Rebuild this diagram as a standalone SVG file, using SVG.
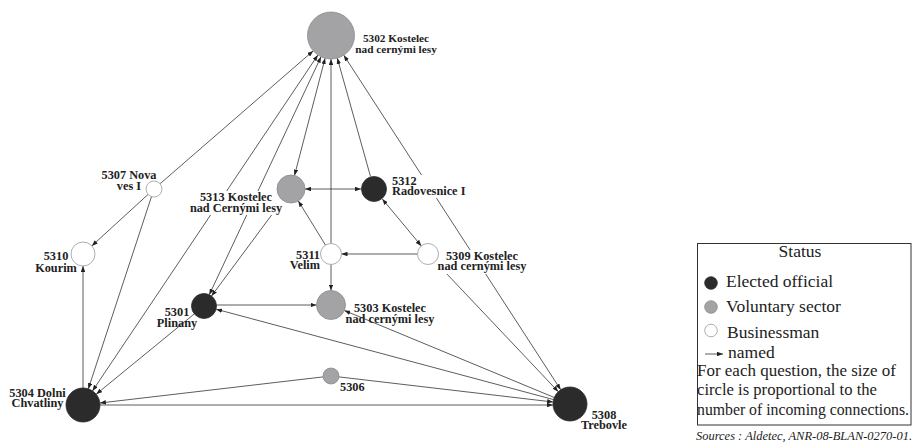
<svg xmlns="http://www.w3.org/2000/svg" width="913" height="444" viewBox="0 0 913 444">
<style>
.e{stroke:#333;stroke-width:0.8;fill:none}
.a{marker-end:url(#ah)}
.b{marker-start:url(#ah);marker-end:url(#ah)}
.blk{fill:#2b2b2b;stroke:#2b2b2b;stroke-width:0.8}
.gry{fill:#a3a3a6;stroke:#8a8a8a;stroke-width:0.8}
.wht{fill:#fff;stroke:#999;stroke-width:0.8}
.lb{font-family:"Liberation Serif","Times New Roman",serif;font-weight:bold;font-size:12.3px;fill:#222}
.bg{fill:#fff}
.lg{font-family:"Liberation Serif","Times New Roman",serif;fill:#222}
</style>
<defs>
<marker id="ah" viewBox="0 0 8 6" refX="8" refY="3" markerWidth="6" markerHeight="4.5" markerUnits="userSpaceOnUse" orient="auto-start-reverse"><path d="M0,0 L8,3 L0,6 z" fill="#222"/></marker>
</defs>
<rect width="913" height="444" fill="#fff"/>
<g id="edges">
<line class="e a" x1="160" y1="183.8" x2="313.2" y2="50.9"/>
<line class="e b" x1="317.9" y1="55" x2="92.5" y2="390.9"/>
<line class="e b" x1="321" y1="56.8" x2="209.3" y2="294.7"/>
<line class="e b" x1="325.1" y1="58.2" x2="294.5" y2="175.5"/>
<line class="e a" x1="331" y1="243.5" x2="331" y2="59"/>
<line class="e a" x1="370.5" y1="176.5" x2="337.3" y2="58.1"/>
<line class="e b" x1="343.8" y1="55.2" x2="560.7" y2="389.7"/>
<line class="e b" x1="305" y1="189" x2="361" y2="189"/>
<line class="e a" x1="325.5" y1="245.1" x2="298.3" y2="200.9"/>
<line class="e b" x1="382.3" y1="199" x2="421.3" y2="245.9"/>
<line class="e a" x1="417.5" y1="254" x2="341.5" y2="254"/>
<line class="e a" x1="331" y1="264.5" x2="331" y2="290.5"/>
<line class="e a" x1="216.5" y1="305" x2="316.5" y2="305"/>
<line class="e a" x1="554.3" y1="397.5" x2="344.4" y2="310.5"/>
<line class="e a" x1="553.6" y1="399.6" x2="216.1" y2="309.2"/>
<line class="e a" x1="282.6" y1="200.2" x2="211.5" y2="296"/>
<line class="e a" x1="151.5" y1="196.6" x2="88.3" y2="388.9"/>
<line class="e a" x1="194.3" y1="313.9" x2="96.2" y2="394.2"/>
<line class="e a" x1="148.1" y1="194.4" x2="91.8" y2="245.9"/>
<line class="e a" x1="83" y1="388" x2="83" y2="266"/>
<line class="e a" x1="323.1" y1="376.9" x2="99.9" y2="403"/>
<line class="e a" x1="338.9" y1="376.9" x2="553.1" y2="402"/>
<line class="e a" x1="100" y1="405" x2="553" y2="405"/>
<line class="e a" x1="435.2" y1="261.6" x2="558.3" y2="391.7"/>
</g>
<g id="n5302"><circle class="gry" cx="331" cy="35.5" r="23.5"/><text class="lb" text-anchor="middle" style="font-size:11.3px"><tspan x="396" y="42">5302 Kostelec</tspan><tspan x="396" y="53">nad cernými lesy</tspan></text></g>
<g id="n5313"><rect class="bg" x="189" y="191" width="96" height="24"/><circle class="gry" cx="291" cy="189" r="14"/><text class="lb" text-anchor="middle"><tspan x="236" y="201">5313 Kostelec</tspan><tspan x="236" y="212">nad Cernými lesy</tspan></text></g>
<g id="n5312"><rect class="bg" x="390" y="175" width="78" height="23"/><circle class="blk" cx="374" cy="189" r="12.5"/><text class="lb"><tspan x="392" y="185">5312</tspan><tspan x="392" y="194.5">Radovesnice I</tspan></text></g>
<g id="n5311"><circle class="wht" cx="331" cy="254" r="10.5"/><text class="lb" text-anchor="end"><tspan x="320" y="259">5311</tspan><tspan x="320" y="268.5">Velim</tspan></text></g>
<g id="n5309"><rect class="bg" x="433" y="250" width="97" height="24"/><circle class="wht" cx="428" cy="254" r="10.5"/><text class="lb" text-anchor="middle"><tspan x="482" y="260">5309 Kostelec</tspan><tspan x="482" y="270">nad cernými lesy</tspan></text></g>
<g id="n5303"><circle class="gry" cx="331" cy="305" r="14.5"/><text class="lb" text-anchor="middle"><tspan x="390" y="312">5303 Kostelec</tspan><tspan x="390" y="322.5">nad cernými lesy</tspan></text></g>
<g id="n5301"><circle class="blk" cx="204" cy="306" r="12.5"/><text class="lb" text-anchor="middle"><tspan x="177" y="316">5301</tspan><tspan x="177" y="327">Plinany</tspan></text></g>
<g id="n5307"><circle class="wht" cx="154" cy="189" r="8"/><text class="lb" text-anchor="middle"><tspan x="129" y="179">5307 Nova</tspan><tspan x="129" y="190">ves I</tspan></text></g>
<g id="n5310"><circle class="wht" cx="83" cy="254" r="12"/><text class="lb" text-anchor="middle"><tspan x="56" y="260">5310</tspan><tspan x="56" y="271.5">Kourim</tspan></text></g>
<g id="n5304"><circle class="blk" cx="83" cy="405" r="17"/><text class="lb" text-anchor="middle"><tspan x="37.5" y="397">5304 Dolni</tspan><tspan x="37.5" y="407">Chvatliny</tspan></text></g>
<g id="n5306"><circle class="gry" cx="331" cy="376" r="8"/><text class="lb" x="340" y="391">5306</text></g>
<g id="n5308"><circle class="blk" cx="570" cy="404" r="17"/><text class="lb" text-anchor="middle"><tspan x="604" y="419">5308</tspan><tspan x="604" y="428.5">Trebovle</tspan></text></g>
<g id="legend">
<rect x="697.5" y="243.5" width="213.5" height="181.5" fill="#fff" stroke="#333" stroke-width="1"/>
<text class="lg" x="800" y="257" text-anchor="middle" font-size="17.5">Status</text>
<circle class="blk" cx="711" cy="283" r="6.3"/>
<text class="lg" x="726" y="287" font-size="17.5">Elected official</text>
<circle class="gry" cx="711" cy="307" r="6.3"/>
<text class="lg" x="726" y="312" font-size="17.5">Voluntary sector</text>
<circle class="wht" cx="711" cy="330.5" r="6.3"/>
<text class="lg" x="727" y="338" font-size="17.5">Businessman</text>
<line class="e a" x1="705" y1="354" x2="723" y2="354"/>
<text class="lg" x="728" y="358" font-size="17.5">named</text>
<text class="lg" x="697" y="376" font-size="16.3" textLength="199" lengthAdjust="spacingAndGlyphs">For each question, the size of</text>
<text class="lg" x="697" y="395" font-size="16.3" textLength="180" lengthAdjust="spacingAndGlyphs">circle is proportional to the</text>
<text class="lg" x="697" y="414.5" font-size="16.3" textLength="212" lengthAdjust="spacingAndGlyphs">number of incoming connections.</text>
<text class="lg" x="696" y="440" font-size="11.5" font-style="italic" textLength="216" lengthAdjust="spacingAndGlyphs">Sources :  Aldetec, ANR-08-BLAN-0270-01.</text>
</g>
</svg>
